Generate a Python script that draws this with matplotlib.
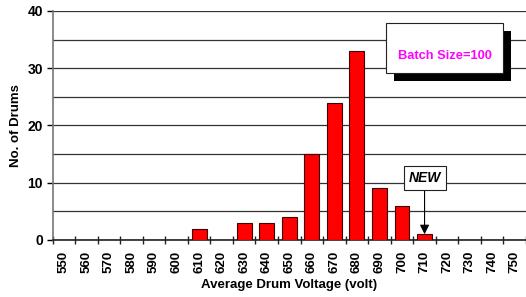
import matplotlib.pyplot as plt
import numpy as np

plt.rcParams['font.family'] = 'Liberation Sans'
plt.rcParams['font.weight'] = 'bold'

voltages = list(range(550, 760, 10))
counts = [0, 0, 0, 0, 0, 0, 2, 0, 3, 3, 4, 15, 24, 33, 9, 6, 1, 0, 0, 0, 0]

W, H = 526, 297
fig = plt.figure(figsize=(5.26, 2.97), dpi=100)
ax = fig.add_axes([0.1, 0.192, 0.9, 0.771])

x = np.arange(len(voltages))
ax.bar(x, counts, 0.66, color='#ff0000', edgecolor='#400000', linewidth=0.8, zorder=3)

ax.set_xlim(-0.5, len(voltages) - 0.5)
ax.set_ylim(0, 40)
ax.set_yticks(range(0, 41, 10))
ax.set_yticks(range(0, 41, 5), minor=True)
ax.yaxis.grid(True, which='both', color='#333333', linewidth=0.9, zorder=0)
ax.set_axisbelow(True)

ax.set_xticks(x)
ax.set_xticklabels([str(v) for v in voltages], rotation=90, fontsize=9.5, fontweight='bold')
ax.set_xticks(np.arange(-0.5, len(voltages), 1), minor=True)
ax.tick_params(axis='x', which='major', length=0, pad=8)
ax.tick_params(axis='x', which='minor', length=6, direction='inout', width=1.0, color='#222222')
ax.tick_params(axis='y', which='major', length=4, width=1.0, labelsize=10, pad=3)
ax.tick_params(axis='y', which='minor', length=0)
for lbl in ax.get_yticklabels():
    lbl.set_fontweight('bold')

for s in ['top', 'right']:
    ax.spines[s].set_visible(False)
ax.spines['left'].set_color('#777777')
ax.spines['left'].set_linewidth(1.2)
ax.spines['bottom'].set_color('#222222')
ax.spines['bottom'].set_linewidth(1.2)

ax.set_xlabel('Average Drum Voltage (volt)', fontsize=9.5, fontweight='bold', labelpad=4)
ax.set_ylabel('No. of Drums', fontsize=9.5, fontweight='bold', labelpad=4)

# Batch size box with drop shadow (figure pixel coords)
def fig_rect(x0, y0, x1, y1, **kw):
    return plt.Rectangle((x0 / W, 1 - y1 / H), (x1 - x0) / W, (y1 - y0) / H,
                         transform=fig.transFigure, **kw)

fig.add_artist(fig_rect(394, 31, 511, 81, facecolor='black', zorder=5))
fig.add_artist(fig_rect(386, 23, 503, 73, facecolor='white', edgecolor='#222222',
                        linewidth=0.8, zorder=6))
fig.text((386 + 503) / 2 / W, 1 - 56 / H, 'Batch Size=100', color='#ff00ff',
         fontsize=9.3, fontweight='bold', ha='center', va='center', zorder=7)

# NEW annotation
i710 = voltages.index(710)
ax.annotate('NEW', xy=(i710, counts[i710]), xytext=(i710, 10.8),
            fontsize=10, fontweight='bold', fontstyle='italic', ha='center', va='center',
            bbox=dict(boxstyle='square,pad=0.35', facecolor='white', edgecolor='#222222', linewidth=0.8),
            arrowprops=dict(arrowstyle='-|>', color='black', lw=0.8, mutation_scale=14, shrinkA=0, shrinkB=0),
            zorder=6)

fig.savefig('out.png', dpi=100)
